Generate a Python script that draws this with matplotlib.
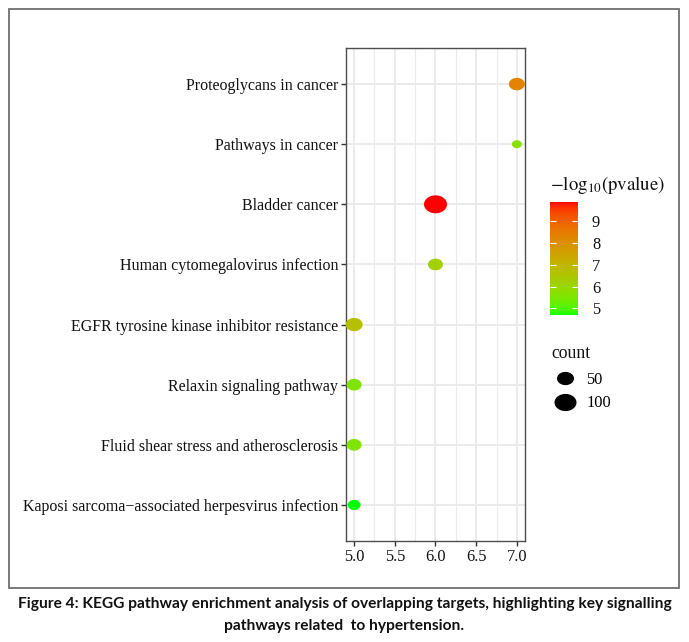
import numpy as np
import matplotlib
matplotlib.use('Agg')
import matplotlib.pyplot as plt
from matplotlib.path import Path
from matplotlib.colors import ListedColormap, Normalize
from matplotlib.patches import Rectangle
from matplotlib.lines import Line2D
import matplotlib.cm as cm

# donnees (de haut en bas)
pathways = ['Proteoglycans in cancer', 'Pathways in cancer', 'Bladder cancer',
            'Human cytomegalovirus infection', 'EGFR tyrosine kinase inhibitor resistance',
            'Relaxin signaling pathway', 'Fluid shear stress and atherosclerosis',
            'Kaposi sarcoma\u2212associated herpesvirus infection']
xvals = [7.0, 7.0, 6.0, 6.0, 5.0, 5.0, 5.0, 5.0]
counts = [42, 9, 112, 35, 50, 35, 35, 22]
logp = [8.3, 5.7, 9.87, 6.2, 6.7, 5.6, 5.55, 4.7]
count_breaks = [50, 100]
color_ticks = [5, 6, 7, 8, 9]
caption = ('Figure 4: KEGG pathway enrichment analysis of overlapping targets, highlighting key signalling\n'
           'pathways related  to hypertension.')

W, H = 689, 642
serif = 'Liberation Serif'
plt.rcParams['mathtext.fontset'] = 'stix'


# gradient vert -> rouge dans l'espace Lab (comme scale_colour_gradient)
def srgb_to_lab(rgb):
    rgb = np.asarray(rgb, float)
    lin = np.where(rgb <= 0.04045, rgb / 12.92, ((rgb + 0.055) / 1.055) ** 2.4)
    M = np.array([[0.4124, 0.3576, 0.1805], [0.2126, 0.7152, 0.0722], [0.0193, 0.1192, 0.9505]])
    xyz = M @ lin / np.array([0.95047, 1.0, 1.08883])
    f = np.where(xyz > 0.008856, np.cbrt(xyz), 7.787 * xyz + 16 / 116)
    return np.array([116 * f[1] - 16, 500 * (f[0] - f[1]), 200 * (f[1] - f[2])])


def lab_to_srgb(lab):
    L, a, b = lab
    fy = (L + 16) / 116
    fx = fy + a / 500
    fz = fy - b / 200
    f = np.array([fx, fy, fz])
    xyz = np.where(f ** 3 > 0.008856, f ** 3, (f - 16 / 116) / 7.787) * np.array([0.95047, 1.0, 1.08883])
    Minv = np.linalg.inv(np.array([[0.4124, 0.3576, 0.1805], [0.2126, 0.7152, 0.0722], [0.0193, 0.1192, 0.9505]]))
    lin = np.clip(Minv @ xyz, 0, 1)
    rgb = np.where(lin <= 0.0031308, 12.92 * lin, 1.055 * lin ** (1 / 2.4) - 0.055)
    return np.clip(rgb, 0, 1)


lab_lo = srgb_to_lab([0, 1, 0])
lab_hi = srgb_to_lab([1, 0, 0])
cmap = ListedColormap([lab_to_srgb(lab_lo + t * (lab_hi - lab_lo)) for t in np.linspace(0, 1, 256)])
norm = Normalize(min(logp), max(logp))

# marqueur ellipse (l'image d'origine est etiree horizontalement)
theta = np.linspace(0, 2 * np.pi, 60)
ellipse = Path(np.column_stack([np.cos(theta), 0.78 * np.sin(theta)]), closed=True)


def largeur_pt(c):
    # largeur du point en pixels -> points (dpi 100)
    return (4.9 + 1.71 * np.sqrt(c)) * 0.72


fig = plt.figure(figsize=(W / 100, H / 100), dpi=100)
fig.patches.append(Rectangle((9 / W, 1 - 588 / H), 670 / W, 579 / H, transform=fig.transFigure,
                             fill=False, edgecolor='#6e6e6e', linewidth=1.3))

ax = fig.add_axes([346 / W, 1 - 541 / H, 179 / W, 493 / H])
ypos = np.arange(len(pathways))[::-1] + 1
sizes = [largeur_pt(c) ** 2 for c in counts]
ax.scatter(xvals, ypos, s=sizes, c=logp, cmap=cmap, norm=norm, marker=ellipse,
           linewidths=0, zorder=3)

ax.set_xlim(4.9, 7.1)
ax.set_ylim(0.4, len(pathways) + 0.6)
ax.set_xticks([5.0, 5.5, 6.0, 6.5, 7.0])
ax.set_xticklabels(['5.0', '5.5', '6.0', '6.5', '7.0'], family=serif, fontsize=11.8)
ax.set_xticks([5.25, 5.75, 6.25, 6.75], minor=True)
ax.set_yticks(ypos)
ax.set_yticklabels(pathways, family=serif, fontsize=11.5)
ax.grid(True, which='major', color='#ebebeb', linewidth=1.4, zorder=0)
ax.grid(True, which='minor', axis='x', color='#ebebeb', linewidth=0.8, zorder=0)
ax.set_axisbelow(True)
ax.tick_params(which='major', length=3.5, width=1.0, color='#333333', labelcolor='#111111', pad=2)
ax.tick_params(which='minor', length=0)
for sp in ax.spines.values():
    sp.set_color('#4d4d4d')
    sp.set_linewidth(1.0)

# barre de couleur
cax = fig.add_axes([550 / W, 1 - 315 / H, 28 / W, 113 / H])
cb = fig.colorbar(cm.ScalarMappable(norm=norm, cmap=cmap), cax=cax, ticks=color_ticks)
cb.outline.set_visible(False)
cax.tick_params(direction='in', length=4, width=0.8, color='white', left=True, right=True,
                labelsize=11.8, pad=10, labelcolor='#111111')
for t in cax.get_yticklabels():
    t.set_family(serif)
fig.text(550 / W, 1 - 185 / H, r'$-\mathrm{log}_{10}\mathrm{(pvalue)}$', fontsize=13.5,
         va='center', ha='left', color='#111111')

# legende des tailles
fig.text(551 / W, 1 - 353 / H, 'count', family=serif, fontsize=12.8, va='center', ha='left',
         color='#111111')
handles = [Line2D([], [], linestyle='none', marker=ellipse, markersize=largeur_pt(c),
                  markerfacecolor='black', markeredgewidth=0) for c in count_breaks]
leg = fig.legend(handles, [str(c) for c in count_breaks], loc='upper left',
                 bbox_to_anchor=(552 / W, 1 - 372 / H), frameon=False,
                 prop={'family': serif, 'size': 11.8}, handlelength=1.6, handletextpad=0.5,
                 labelspacing=0.45, borderaxespad=0, borderpad=0)

fig.text(0.5, 1 - 615 / H, caption, ha='center', va='center', fontsize=11.2, fontweight='bold',
         family='Lato', linespacing=1.65, color='#111111')

fig.savefig('out.png', dpi=100)
